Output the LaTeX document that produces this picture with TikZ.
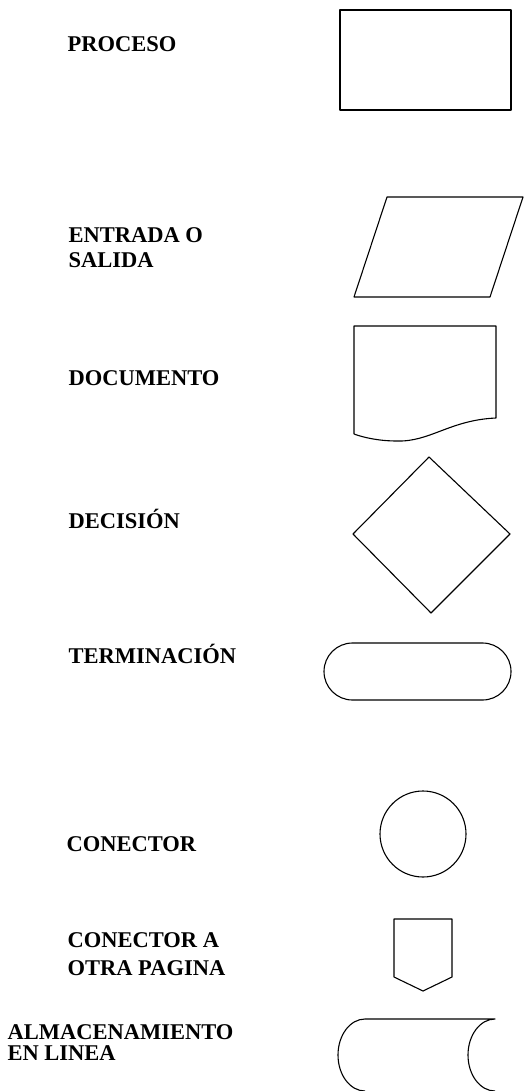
\documentclass[tikz,border=0pt]{standalone}
\usepackage{fontspec}
\setmainfont{Liberation Serif}
\begin{document}
\begin{tikzpicture}[x=1pt, y=-1pt, line width=1.1pt, line join=round,
    etiqueta/.style={anchor=base west, inner sep=0pt, align=left,
        font=\fontsize{22.5}{25}\selectfont\bfseries}]
    \useasboundingbox (0, 0) rectangle (524, 1091);

    \node[etiqueta](proceso) at (67, 52) {PROCESO};
    \node[etiqueta](entrada) at (68, 267) {ENTRADA O\\SALIDA};
    \node[etiqueta](documento) at (68, 385) {DOCUMENTO};
    \node[etiqueta](decision) at (68, 528) {DECISIÓN};
    \node[etiqueta](terminacion) at (68, 663) {TERMINACIÓN};
    \node[etiqueta](conector) at (66, 851) {CONECTOR};
    \node[etiqueta](otrapagina) at (67, 975) {CONECTOR A\\[3pt]OTRA PAGINA};
    \node[etiqueta](almacen) at (7, 1060) {ALMACENAMIENTO\\[-4pt]EN LINEA};

    % proceso
    \draw (340, 10) rectangle (511, 110);
    % entrada o salida
    \draw (387, 197) -- (523, 197) -- (490, 297) -- (354, 297) -- cycle;
    % documento
    \draw (354, 434) -- (354, 326) -- (496, 326) -- (496, 418)
        .. controls (450, 420) and (430, 442) .. (397, 441)
        .. controls (380, 441) and (365, 438) .. (354, 434);
    % decision
    \draw (429, 457) -- (510, 534) -- (431, 613) -- (353, 534) -- cycle;
    % terminacion
    \draw[rounded corners=28.5pt] (324, 643) rectangle (511, 700);
    % conector
    \draw (423, 834) circle (43pt);
    % conector a otra pagina
    \draw (394, 919) -- (452, 919) -- (452, 977) -- (423, 991) -- (394, 977) -- cycle;
    % almacenamiento en linea
    \draw (365, 1091) .. controls (350.1, 1091) and (338, 1074.9) .. (338, 1055)
        .. controls (338, 1035.1) and (350.1, 1019) .. (365, 1019) -- (495, 1019)
        .. controls (480.1, 1019) and (468, 1035.1) .. (468, 1055)
        .. controls (468, 1074.9) and (480.1, 1091) .. (495, 1091);
\end{tikzpicture}
\end{document}
